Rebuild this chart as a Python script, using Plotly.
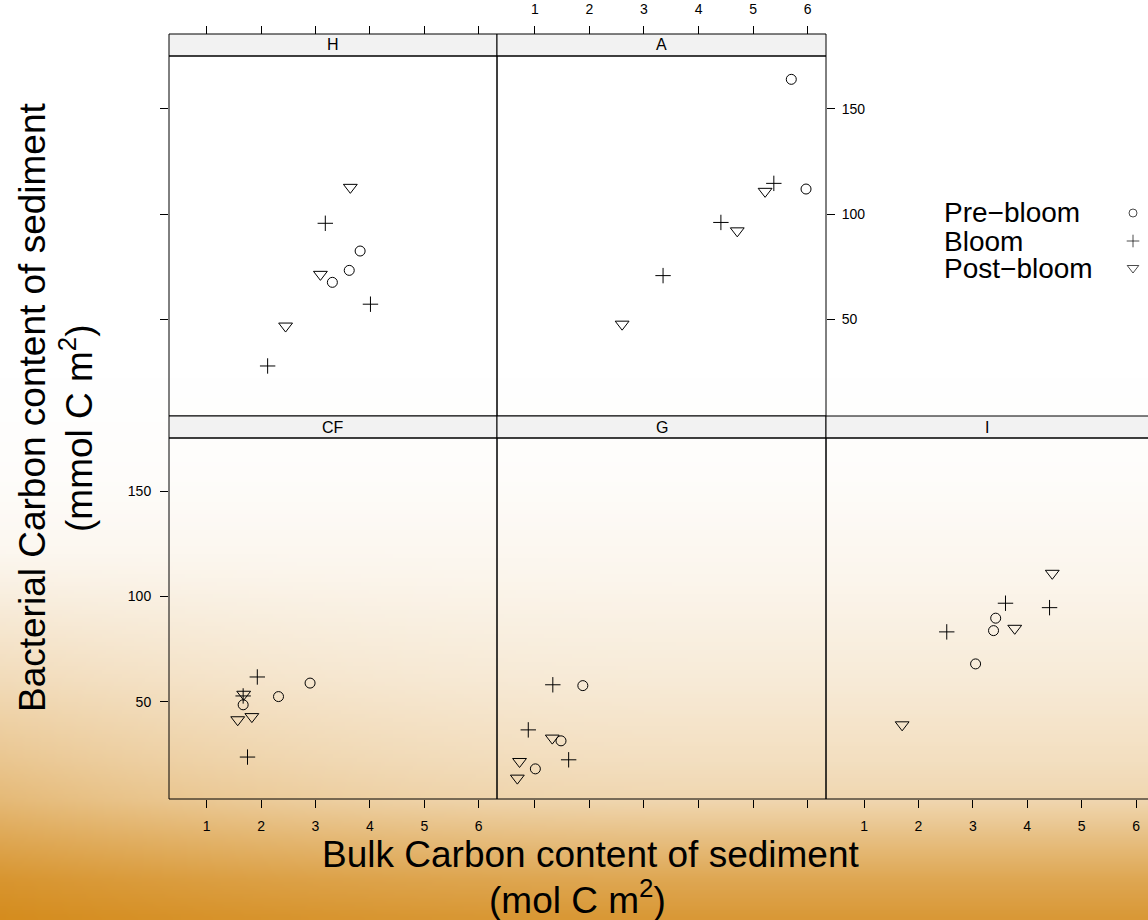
import base64
import struct
import zlib

import numpy as np
import plotly.graph_objects as go

# ---------------- data ----------------
panels = ["H", "A", "CF", "G", "I"]
groups = ["Pre\u2212bloom", "Bloom", "Post\u2212bloom"]

H_pre_x = [3.82, 3.62, 3.31]
H_pre_y = [82.4, 73.2, 67.5]
H_bloom_x = [3.18, 4.01, 2.12]
H_bloom_y = [95.6, 57.1, 27.7]
H_post_x = [3.64, 3.09, 2.45]
H_post_y = [112.7, 71.3, 46.7]

A_pre_x = [5.70, 5.97]
A_pre_y = [164.1, 111.9]
A_bloom_x = [5.38, 4.41, 3.35]
A_bloom_y = [114.6, 96.0, 70.7]
A_post_x = [5.22, 4.71, 2.60]
A_post_y = [110.8, 92.0, 47.6]

CF_pre_x = [2.90, 2.32, 1.67]
CF_pre_y = [58.9, 52.5, 48.6]
CF_bloom_x = [1.93, 1.67, 1.75]
CF_bloom_y = [61.8, 52.8, 23.8]
CF_post_x = [1.68, 1.57, 1.83]
CF_post_y = [53.6, 41.5, 43.0]

G_pre_x = [1.88, 1.48, 1.01]
G_pre_y = [57.7, 31.5, 18.2]
G_bloom_x = [1.33, 0.88, 1.62]
G_bloom_y = [58.1, 36.7, 22.5]
G_post_x = [1.32, 0.72, 0.68]
G_post_y = [32.8, 21.7, 13.8]

I_pre_x = [3.42, 3.38, 3.05]
I_pre_y = [89.7, 83.8, 68.0]
I_bloom_x = [3.60, 4.41, 2.52]
I_bloom_y = [96.8, 94.7, 83.2]
I_post_x = [4.46, 3.77, 1.70]
I_post_y = [111.0, 84.9, 39.1]

x_ticks = [1, 2, 3, 4, 5, 6]
y_ticks = [50, 100, 150]

# ---------------- layout helpers ----------------
W, H = 1148, 920
FONT = "Liberation Sans, Arial, Helvetica, sans-serif"


def px(x):
    return x / W


def py(y):
    return 1 - y / H


# background gradient image (white top -> orange bottom)
def make_background():
    w, h = 288, 230
    ys = (np.arange(h) + 0.5) * H / h
    xs = (np.arange(w) + 0.5) * W / w
    stops_y = [0, 380, 480, 580, 680, 760, 800, 840, 880, 920]
    stops_t = [0.0, 0.0, 0.02, 0.08, 0.17, 0.27, 0.34, 0.55, 0.75, 0.88]
    base = np.interp(ys, stops_y, stops_t)[:, None]
    left = np.clip(1 - xs / 700, 0, 1)[None, :] ** 2
    extra_y = np.interp(ys, [0, 550, 700, 800, 920], [0, 0, 0.15, 0.25, 0.1])[:, None]
    t = np.clip(base + extra_y * left, 0, 1)
    white = np.array([255, 255, 255], float)
    orange = np.array([212, 138, 25], float)
    img = white[None, None, :] * (1 - t[..., None]) + orange[None, None, :] * t[..., None]
    img = np.clip(img, 0, 255).astype(np.uint8)
    raw = b"".join(b"\x00" + img[i].tobytes() for i in range(h))

    def chunk(tag, data):
        c = struct.pack(">I", len(data)) + tag + data
        return c + struct.pack(">I", zlib.crc32(tag + data) & 0xFFFFFFFF)

    png = b"\x89PNG\r\n\x1a\n"
    png += chunk(b"IHDR", struct.pack(">IIBBBBB", w, h, 8, 2, 0, 0, 0))
    png += chunk(b"IDAT", zlib.compress(raw, 9))
    png += chunk(b"IEND", b"")
    return "data:image/png;base64," + base64.b64encode(png).decode()


fig = go.Figure()

sym = ["circle-open", "cross-thin-open", "triangle-down-open"]
sizes = [10, 11, 12]

data = {
    "H": [(H_pre_x, H_pre_y), (H_bloom_x, H_bloom_y), (H_post_x, H_post_y)],
    "A": [(A_pre_x, A_pre_y), (A_bloom_x, A_bloom_y), (A_post_x, A_post_y)],
    "CF": [(CF_pre_x, CF_pre_y), (CF_bloom_x, CF_bloom_y), (CF_post_x, CF_post_y)],
    "G": [(G_pre_x, G_pre_y), (G_bloom_x, G_bloom_y), (G_post_x, G_post_y)],
    "I": [(I_pre_x, I_pre_y), (I_bloom_x, I_bloom_y), (I_post_x, I_post_y)],
}

for k, p in enumerate(panels):
    xa = "x" if k == 0 else f"x{k + 1}"
    ya = "y" if k == 0 else f"y{k + 1}"
    for g, (xs_, ys_) in enumerate(data[p]):
        fig.add_trace(go.Scatter(
            x=xs_, y=ys_, mode="markers", xaxis=xa, yaxis=ya,
            name=groups[g], showlegend=False, hoverinfo="x+y",
            marker=dict(symbol=sym[g], size=sizes[g], color="black",
                        line=dict(color="black", width=1)),
        ))

# legend keys (overlay axis in pixel units)
leg_y = [213, 241, 268]
fig.add_trace(go.Scatter(
    x=[1133, 1133, 1133], y=leg_y, mode="markers", xaxis="x6", yaxis="y6",
    showlegend=False, hoverinfo="skip",
    marker=dict(symbol=sym, size=[8, 9, 10], color="black",
                line=dict(color="black", width=1)),
))

# panel geometry (pixels)
cols = [(169, 497), (497, 826), (826, 1148)]
rows = [(34, 56, 416), (416, 438, 799)]  # strip top, panel top, panel bottom
x_ranges = [[0.307, 6.336], [0.307, 6.336], [0.30, 6.22]]
y_range = [3.9, 175.2]
pos = {"H": (0, 0), "A": (0, 1), "CF": (1, 0), "G": (1, 1), "I": (1, 2)}

tickfont = dict(family=FONT, size=14, color="black")
layout = dict(
    width=W, height=H, autosize=False,
    margin=dict(l=0, r=0, t=0, b=0, pad=0),
    paper_bgcolor="white", plot_bgcolor="rgba(0,0,0,0)",
    showlegend=False, font=dict(family=FONT, color="black"),
)

axis_common = dict(showgrid=False, zeroline=False, showline=False,
                   tickcolor="black", ticklen=8, tickwidth=1, tickfont=tickfont)

shapes = []
annotations = []
for k, p in enumerate(panels):
    r, c = pos[p]
    x0, x1 = cols[c]
    st, pt, pb = rows[r]
    xn = "xaxis" if k == 0 else f"xaxis{k + 1}"
    yn = "yaxis" if k == 0 else f"yaxis{k + 1}"
    yref = "y" if k == 0 else f"y{k + 1}"
    xref = "x" if k == 0 else f"x{k + 1}"
    xd = [px(x0), px(x1)]
    yd = [py(pb), py(pt)]
    xax = dict(axis_common, domain=xd, range=x_ranges[c], tickvals=x_ticks)
    yax = dict(axis_common, domain=yd, range=y_range, tickvals=y_ticks)
    if p in ("H", "A"):
        xax.update(anchor="free", position=py(st), side="top", ticks="outside",
                   showticklabels=(p == "A"), ticklabelstandoff=6)
    else:
        xax.update(anchor=yref, side="bottom", ticks="outside",
                   showticklabels=(p != "G"), ticklabelstandoff=6)
    if p == "H":
        yax.update(anchor=xref, side="left", ticks="outside", showticklabels=False)
    elif p == "A":
        yax.update(anchor=xref, side="right", ticks="outside", showticklabels=True,
                   ticklabelstandoff=4)
    elif p == "CF":
        yax.update(anchor=xref, side="left", ticks="outside", showticklabels=True,
                   ticklabelstandoff=6)
    else:
        yax.update(anchor=xref, ticks="", showticklabels=False)
    layout[xn] = xax
    layout[yn] = yax

    xe = px(x1) if x1 < W else 1.02
    # strip
    shapes.append(dict(type="rect", xref="paper", yref="paper",
                       x0=px(x0), x1=xe, y0=py(pt), y1=py(st),
                       fillcolor="#f2f2f2", line=dict(color="black", width=1),
                       layer="above"))
    # panel border
    shapes.append(dict(type="rect", xref="paper", yref="paper",
                       x0=px(x0), x1=xe, y0=py(pb), y1=py(pt),
                       line=dict(color="black", width=1), layer="above"))
    annotations.append(dict(text=p, xref="paper", yref="paper",
                            x=(px(x0) + px(x1)) / 2, y=(py(st) + py(pt)) / 2,
                            xanchor="center", yanchor="middle", showarrow=False,
                            font=dict(family=FONT, size=16, color="black")))

layout["xaxis6"] = dict(domain=[0, 1], range=[0, W], visible=False, anchor="y6",
                        fixedrange=True)
layout["yaxis6"] = dict(domain=[0, 1], range=[H, 0], visible=False, anchor="x6",
                        fixedrange=True)

# legend labels
for g, yy in enumerate(leg_y):
    annotations.append(dict(text=groups[g], xref="paper", yref="paper",
                            x=px(942), y=py(yy), xanchor="left", yanchor="middle",
                            showarrow=False,
                            font=dict(family=FONT, size=28, color="black")))

# axis titles
annotations.append(dict(text="Bulk Carbon content of sediment", xref="paper",
                        yref="paper", x=px(591), y=py(854), xanchor="center",
                        yanchor="middle", showarrow=False,
                        font=dict(family=FONT, size=37, color="black")))
annotations.append(dict(text="(mol C m<sup>2</sup>)", xref="paper",
                        yref="paper", x=px(577), y=py(897), xanchor="center",
                        yanchor="middle", showarrow=False,
                        font=dict(family=FONT, size=37, color="black")))
annotations.append(dict(text="Bacterial Carbon content of sediment", xref="paper",
                        yref="paper", x=px(33), y=py(407), xanchor="center",
                        yanchor="middle", showarrow=False, textangle=-90,
                        font=dict(family=FONT, size=37, color="black")))
annotations.append(dict(text="(mmol C m<sup>2</sup>)", xref="paper",
                        yref="paper", x=px(76), y=py(428), xanchor="center",
                        yanchor="middle", showarrow=False, textangle=-90,
                        font=dict(family=FONT, size=37, color="black")))

layout["shapes"] = shapes
layout["annotations"] = annotations
layout["images"] = [dict(source=make_background(), xref="paper", yref="paper",
                         x=0, y=1, sizex=1, sizey=1, xanchor="left", yanchor="top",
                         sizing="stretch", layer="below")]

fig.update_layout(**layout)
fig.write_html("out.html")
